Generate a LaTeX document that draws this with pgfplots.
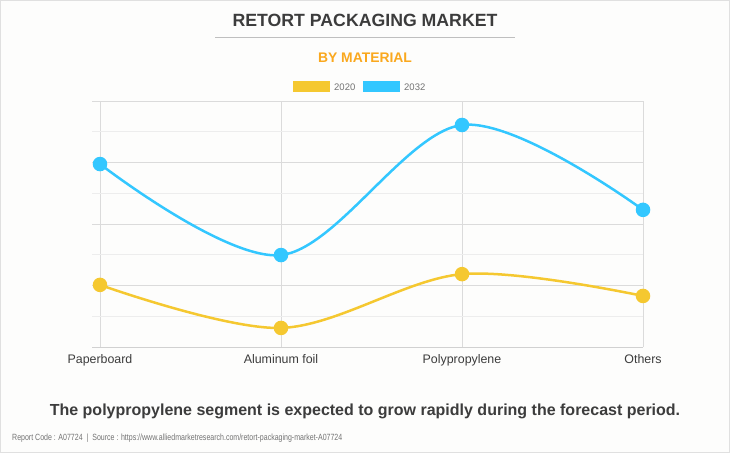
\documentclass[border=0pt]{standalone}
\usepackage{pgfplots}
\pgfplotsset{compat=1.18}
\usepackage{fontspec}
\setmainfont{Liberation Sans}
\definecolor{cblue}{RGB}{51,199,255}
\definecolor{cyel}{RGB}{245,200,48}
\definecolor{corange}{RGB}{250,168,30}
\definecolor{ctext}{RGB}{60,60,60}
\definecolor{cbg}{RGB}{253,253,252}
\begin{document}
\begin{tikzpicture}[x=1pt,y=1pt]
\fill[cbg] (0,0) rectangle (730,453);
\draw[black!12] (0.5,0.5) rectangle (729.5,452.5);
\node[anchor=base,text=ctext,font=\fontsize{17.7}{20}\selectfont\bfseries] at (365,426) {RETORT PACKAGING MARKET};
\draw[black!25] (215,416) -- (515,416);
\node[anchor=base,text=corange,font=\fontsize{13.9}{16}\selectfont\bfseries] at (365,390) {BY MATERIAL};
\fill[cyel] (293,361) rectangle (330,372);
\node[anchor=base west,inner sep=0pt,text=black!55,font=\fontsize{9.5}{11}\selectfont] at (334,362.5) {2020};
\fill[cblue] (363,361) rectangle (400,372);
\node[anchor=base west,inner sep=0pt,text=black!55,font=\fontsize{9.5}{11}\selectfont] at (404,362.5) {2032};
\begin{axis}[
  at={(92pt,106pt)}, anchor=south west,
  scale only axis, width=551pt, height=246pt,
  xmin=-0.0442, xmax=3, ymin=0, ymax=8,
  clip=false,
  axis line style={draw=none},
  xtick={0,1,2,3},
  xticklabels={Paperboard,Aluminum foil,Polypropylene,Others},
  xticklabel style={font=\fontsize{12.4}{14}\selectfont, text=ctext, yshift=-4pt},
  major tick length=0pt, minor tick length=0pt,
  ytick={0,2,4,6,8}, yticklabels={},
  minor ytick={1,3,5,7},
  grid=both,
  major grid style={black!14, line width=0.8pt},
  minor grid style={black!7, line width=1.2pt},
]
\draw[black!18, line width=1pt] (axis cs:-0.0442,0) -- (axis cs:3,0);
\addplot[cyel, line width=2.5pt, smooth, tension=0.55, mark=*, mark size=6pt, mark options={draw=cyel, fill=cyel}]
  coordinates {(0,2.02) (1,0.62) (2,2.37) (3,1.66)};
\addplot[cblue, line width=2.5pt, smooth, tension=0.55, mark=*, mark size=6pt, mark options={draw=cblue, fill=cblue}]
  coordinates {(0,5.95) (1,2.99) (2,7.22) (3,4.46)};
\end{axis}
\node[anchor=base,text=ctext,font=\fontsize{16}{18}\selectfont\bfseries] at (365,38) {The polypropylene segment is expected to grow rapidly during the forecast period.};
\node[anchor=base west,inner sep=0pt,text=black!55] at (12,13) {\scalebox{0.78}[1]{\fontsize{9}{11}\selectfont Report Code : A07724~~|~~Source : https://www.alliedmarketresearch.com/retort-packaging-market-A07724}};
\end{tikzpicture}
\end{document}
